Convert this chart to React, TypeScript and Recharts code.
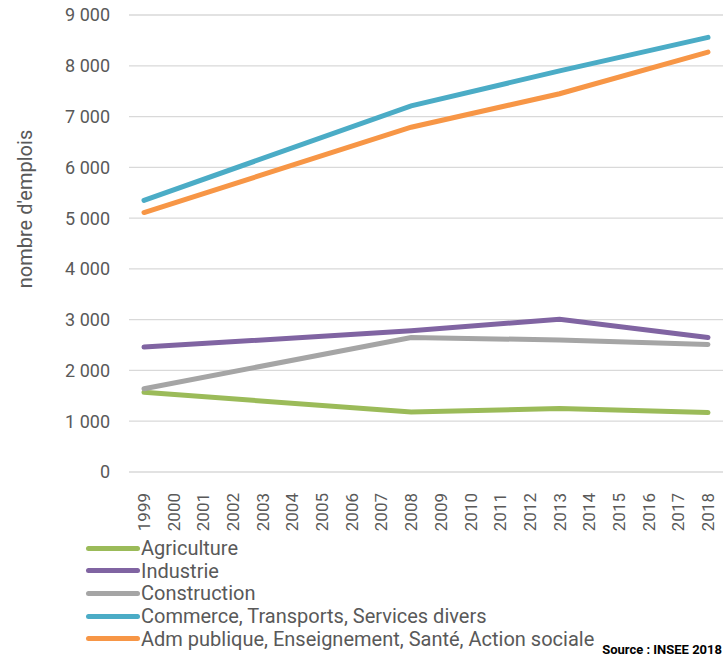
import { LineChart, Line, XAxis, YAxis, CartesianGrid, Label } from 'recharts';

const years = [
  '1999', '2000', '2001', '2002', '2003', '2004', '2005', '2006', '2007', '2008',
  '2009', '2010', '2011', '2012', '2013', '2014', '2015', '2016', '2017', '2018',
];

// values only known for census years, others left empty and joined
const agriculture = [1570, null, null, null, null, null, null, null, null, 1180, null, null, null, null, 1250, null, null, null, null, 1170];
const industrie = [2460, null, null, null, null, null, null, null, null, 2780, null, null, null, null, 3010, null, null, null, null, 2650];
const construction = [1640, null, null, null, null, null, null, null, null, 2650, null, null, null, null, 2600, null, null, null, null, 2510];
const commerce = [5350, null, null, null, null, null, null, null, null, 7210, null, null, null, null, 7900, null, null, null, null, 8560];
const admPublique = [5110, null, null, null, null, null, null, null, null, 6790, null, null, null, null, 7450, null, null, null, null, 8270];

const yTicks = [0, 1000, 2000, 3000, 4000, 5000, 6000, 7000, 8000, 9000];

const series = [
  { key: 'agriculture', name: 'Agriculture', color: '#9BBB59', values: agriculture },
  { key: 'industrie', name: 'Industrie', color: '#8064A2', values: industrie },
  { key: 'construction', name: 'Construction', color: '#A5A5A5', values: construction },
  { key: 'commerce', name: 'Commerce, Transports, Services divers', color: '#4BACC6', values: commerce },
  { key: 'adm', name: 'Adm publique, Enseignement, Santé, Action sociale', color: '#F79646', values: admPublique },
];

const chartData = years.map((year, i) => {
  const row: Record<string, string | number | null> = { year };
  series.forEach((s) => {
    row[s.key] = s.values[i];
  });
  return row;
});

const font = 'Roboto, "DejaVu Sans", sans-serif';
const grey = '#595959';

const formatThousands = (v: number) => (v >= 1000 ? `${Math.floor(v / 1000)} ${String(v % 1000).padStart(3, '0')}` : String(v));

const YearTick = (props: any) => {
  const { x, y, payload } = props;
  return (
    <text
      x={x}
      y={y}
      transform={`rotate(-90, ${x}, ${y})`}
      dy={6}
      dx={-13}
      textAnchor='end'
      fill={grey}
      fontSize={17}
      fontFamily={font}
    >
      {payload.value}
    </text>
  );
};

export default function App() {
  return (
    <div style={{ position: 'relative', width: 726, height: 659, fontFamily: font, background: '#fff' }}>
      <style>{'body{margin:0}'}</style>
      <LineChart width={726} height={535} data={chartData} margin={{ top: 15, right: 3, bottom: 0, left: 0 }}>
        <CartesianGrid vertical={false} stroke='#d9d9d9' strokeWidth={1.3} />
        <XAxis
          dataKey='year'
          interval={0}
          axisLine={false}
          tickLine={false}
          height={63}
          padding={{ left: 15, right: 15 }}
          tick={<YearTick />}
        />
        <YAxis
          domain={[0, 9000]}
          ticks={yTicks}
          width={129}
          axisLine={false}
          tickLine={false}
          tickSize={0}
          tickMargin={19}
          tickFormatter={formatThousands}
          tick={{ fill: grey, fontSize: 18, fontFamily: font }}
        >
          <Label
            content={() => (
              <text
                x={25}
                y={209}
                transform='rotate(-90, 25, 209)'
                textAnchor='middle'
                dominantBaseline='central'
                fill={grey}
                fontSize={20}
                fontFamily={font}
              >
                nombre d'emplois
              </text>
            )}
          />
        </YAxis>
        {series.map((s) => (
          <Line
            key={s.key}
            dataKey={s.key}
            name={s.name}
            type='linear'
            stroke={s.color}
            strokeWidth={5}
            strokeLinecap='round'
            dot={false}
            connectNulls
            isAnimationActive={false}
          />
        ))}
      </LineChart>
      <div style={{ position: 'absolute', left: 86, top: 537 }}>
        {series.map((s) => (
          <div key={s.key} style={{ display: 'flex', alignItems: 'center', height: 22.6 }}>
            <div style={{ width: 54, height: 5, borderRadius: 3, background: s.color, marginRight: 1 }} />
            <span style={{ fontSize: 20, color: grey, whiteSpace: 'nowrap', lineHeight: '22px' }}>{s.name}</span>
          </div>
        ))}
      </div>
      <div
        style={{
          position: 'absolute',
          right: 4,
          top: 642,
          fontFamily: '"Liberation Sans Narrow", Roboto, sans-serif',
          fontWeight: 'bold',
          fontSize: 13,
          color: '#000',
        }}
      >
        Source : INSEE 2018
      </div>
    </div>
  );
}
